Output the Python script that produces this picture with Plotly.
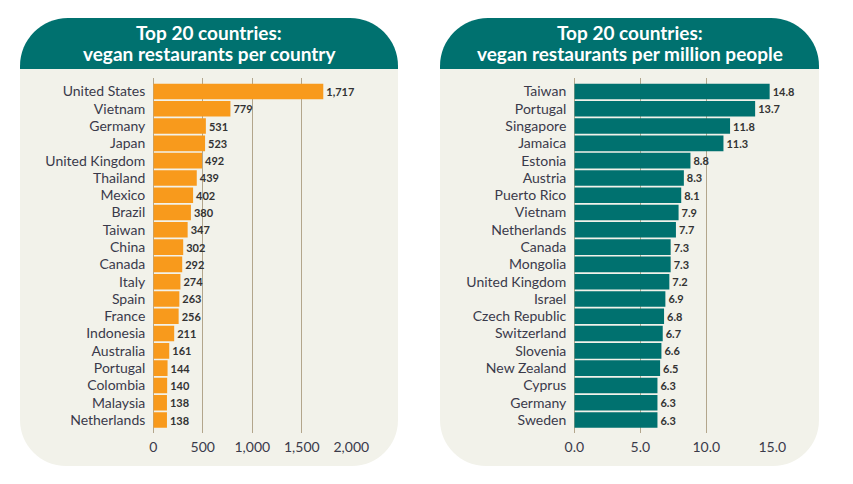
import plotly.graph_objects as go

W, H = 853, 484

left_countries = ["United States", "Vietnam", "Germany", "Japan", "United Kingdom", "Thailand",
                  "Mexico", "Brazil", "Taiwan", "China", "Canada", "Italy", "Spain", "France",
                  "Indonesia", "Australia", "Portugal", "Colombia", "Malaysia", "Netherlands"]
left_values = [1717, 779, 531, 523, 492, 439, 402, 380, 347, 302, 292, 274, 263, 256, 211,
               161, 144, 140, 138, 138]

right_countries = ["Taiwan", "Portugal", "Singapore", "Jamaica", "Estonia", "Austria",
                   "Puerto Rico", "Vietnam", "Netherlands", "Canada", "Mongolia",
                   "United Kingdom", "Israel", "Czech Republic", "Switzerland", "Slovenia",
                   "New Zealand", "Cyprus", "Germany", "Sweden"]
right_values = [14.8, 13.7, 11.8, 11.3, 8.8, 8.3, 8.1, 7.9, 7.7, 7.3, 7.3, 7.2, 6.9, 6.8,
                6.7, 6.6, 6.5, 6.3, 6.3, 6.3]

left_title = ["Top 20 countries:", "vegan restaurants per country"]
right_title = ["Top 20 countries:", "vegan restaurants per million people"]
left_ticks = [0, 500, 1000, 1500, 2000]
right_ticks = [0, 5, 10, 15]

TEAL = "#00716F"
ORANGE = "#F89A1C"
BEIGE = "#F2F2EA"
GRID = "#B3A68C"
TXT = "#3A3A4A"
FONT = "Lato"


def px(x):
    return x / W


def py(y):
    return 1 - y / H


K = 0.5523


def rounded_path(x0, y0, x1, y1, rt, rb):
    """Rounded rectangle in pixel coords; rt top radius, rb bottom radius."""
    pts = []
    pts.append(f"M {px(x0)},{py(y0 + rt)}")
    if rt > 0:
        pts.append(f"C {px(x0)},{py(y0 + rt - K*rt)} {px(x0 + rt - K*rt)},{py(y0)} {px(x0 + rt)},{py(y0)}")
    pts.append(f"L {px(x1 - rt)},{py(y0)}")
    if rt > 0:
        pts.append(f"C {px(x1 - rt + K*rt)},{py(y0)} {px(x1)},{py(y0 + rt - K*rt)} {px(x1)},{py(y0 + rt)}")
    pts.append(f"L {px(x1)},{py(y1 - rb)}")
    if rb > 0:
        pts.append(f"C {px(x1)},{py(y1 - rb + K*rb)} {px(x1 - rb + K*rb)},{py(y1)} {px(x1 - rb)},{py(y1)}")
    pts.append(f"L {px(x0 + rb)},{py(y1)}")
    if rb > 0:
        pts.append(f"C {px(x0 + rb - K*rb)},{py(y1)} {px(x0)},{py(y1 - rb + K*rb)} {px(x0)},{py(y1 - rb)}")
    pts.append("Z")
    return " ".join(pts)


fig = go.Figure()

fig.add_trace(go.Bar(
    x=left_values, y=left_countries, orientation="h", xaxis="x", yaxis="y",
    marker=dict(color=ORANGE, line=dict(width=0)),
    text=[f"{v:,}" for v in left_values], textposition="outside",
    textfont=dict(family=FONT, size=11, color="#333333", weight="bold"),
    cliponaxis=False, showlegend=False,
))
fig.add_trace(go.Bar(
    x=right_values, y=right_countries, orientation="h", xaxis="x2", yaxis="y2",
    marker=dict(color=TEAL, line=dict(width=0)),
    text=[f"{v:.1f}" for v in right_values], textposition="outside",
    textfont=dict(family=FONT, size=11, color="#333333", weight="bold"),
    cliponaxis=False, showlegend=False,
))

ydom = [py(433), py(78)]
yrange = [19.75, -0.78]

axis_common = dict(showgrid=True, gridcolor=GRID, gridwidth=1, zeroline=True,
                   zerolinecolor=GRID, zerolinewidth=1, showline=False, ticks="",
                   automargin=False, ticklabelstandoff=4,
                   tickfont=dict(family=FONT, size=14, color=TXT), fixedrange=True)
yaxis_common = dict(showgrid=False, zeroline=False, showline=False, ticks="",
                    automargin=False, ticklabelstandoff=7, type="category",
                    tickfont=dict(family=FONT, size=14, color=TXT), fixedrange=True)

fig.update_layout(
    width=W, height=H,
    margin=dict(l=0, r=0, t=0, b=0, autoexpand=False),
    paper_bgcolor="white", plot_bgcolor="rgba(0,0,0,0)",
    bargap=0.1,
    font=dict(family=FONT, color=TXT),
    xaxis=dict(domain=[px(153.3), px(351.3)], range=[0, 2000], tickvals=left_ticks,
               tickformat=",", anchor="y", **axis_common),
    yaxis=dict(domain=ydom, range=yrange, categoryarray=left_countries, anchor="x",
               **yaxis_common),
    xaxis2=dict(domain=[px(574.3), px(772.3)], range=[0, 15], tickvals=right_ticks,
                tickformat=".1f", anchor="y2", **axis_common),
    yaxis2=dict(domain=ydom, range=yrange, categoryarray=right_countries, anchor="x2",
                **yaxis_common),
)

shapes = []
for (x0, x1) in [(20, 398), (440, 819)]:
    shapes.append(dict(type="path", xref="paper", yref="paper", layer="below",
                       path=rounded_path(x0, 68, x1, 466, 0, 46),
                       fillcolor=BEIGE, line=dict(width=0)))
    shapes.append(dict(type="path", xref="paper", yref="paper", layer="below",
                       path=rounded_path(x0, 18, x1, 69, 48, 0),
                       fillcolor=TEAL, line=dict(width=0)))
fig.update_layout(shapes=shapes)

for (xc, lines) in [(209, left_title), (629.5, right_title)]:
    for yl, t in zip([33, 54], lines):
        fig.add_annotation(x=px(xc), y=py(yl), xref="paper", yref="paper", text=t,
                           showarrow=False, xanchor="center", yanchor="middle",
                           font=dict(family=FONT, size=19, color="white", weight="bold"),
                           align="center")

fig.write_html("out.html")
